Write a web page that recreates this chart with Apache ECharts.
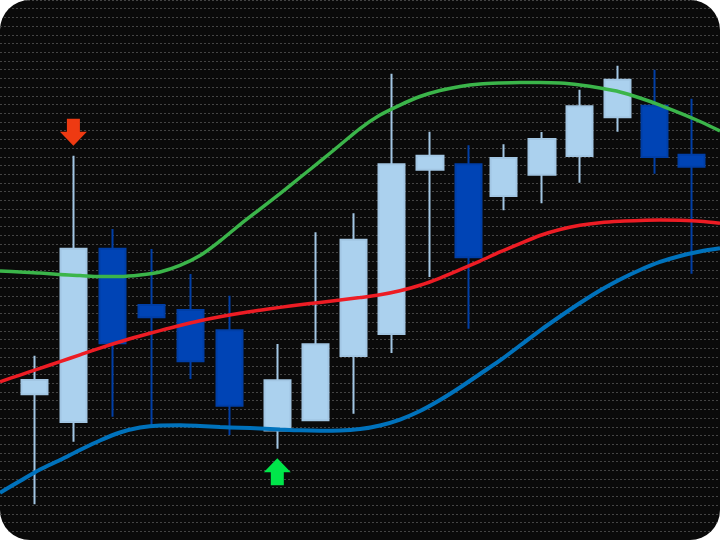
<!DOCTYPE html>
<html><head><meta charset="utf-8">
<script src="https://cdn.jsdelivr.net/npm/echarts@6/dist/echarts.min.js"></script>
<style>
html,body{margin:0;padding:0;background:#ffffff;}
#c{width:720px;height:540px;border-radius:30px;overflow:hidden;background:#0a0a0a;}
</style></head><body><div id="c"></div>
<script>
// bar times (time units on a linear axis)
const times = [34.7, 73.4, 112.7, 151.7, 190.7, 229.7, 277.3, 315.3, 353.7, 391.3, 430, 468.3, 503.7, 542, 579.7, 617.3, 654.7, 691.3];
const opens  = [16.73, 13.55, 33.44, 26.98, 26.41, 24.08, 12.57, 13.74, 21.13, 23.65, 42.51, 43.13, 39.49, 41.94, 44.09, 48.53, 49.86, 44.24];
const closes = [18.37, 33.44, 22.58, 25.57, 20.52, 15.42, 18.34, 22.47, 34.48, 43.13, 44.12, 32.46, 43.86, 46.04, 49.79, 52.85, 43.97, 42.86];
const lows   = [4.10, 11.29, 14.16, 13.20, 18.48, 12.06, 10.48, 13.74, 14.50, 21.47, 30.20, 24.26, 37.85, 38.66, 41.02, 46.88, 42.06, 30.57];
const highs  = [21.16, 44.12, 35.71, 33.41, 30.54, 28.05, 22.50, 35.33, 37.51, 53.54, 46.88, 45.32, 45.43, 46.84, 51.70, 54.46, 54.00, 50.67];

// band curves sampled over time
const bandTimes = [0, 20, 40, 60, 80, 100, 120, 140, 160, 180, 200, 220, 240, 260, 280, 300, 320, 340, 360,
                   380, 400, 420, 440, 460, 480, 500, 520, 540, 560, 580, 600, 620, 640, 660, 680, 700, 720];
const upperBand  = [30.88, 30.77, 30.65, 30.48, 30.37, 30.25, 30.25, 30.42, 30.77, 31.52, 32.66, 34.33, 36.22, 38.00, 39.78, 41.62, 43.46, 45.35, 47.24,
                    48.79, 49.94, 50.92, 51.61, 52.07, 52.35, 52.47, 52.53, 52.53, 52.47, 52.24, 51.89, 51.44, 50.75, 49.94, 49.02, 48.05, 46.96];
const middleBand = [18.17, 18.94, 19.71, 20.48, 21.26, 22.04, 22.76, 23.42, 24.04, 24.63, 25.17, 25.63, 26.03, 26.38, 26.71, 27.00, 27.28, 27.55, 27.83,
                    28.15, 28.61, 29.25, 30.08, 31.04, 32.03, 33.07, 34.04, 34.96, 35.65, 36.13, 36.43, 36.60, 36.69, 36.73, 36.70, 36.60, 36.36];
const lowerBand  = [5.43, 6.77, 8.09, 9.18, 10.33, 11.42, 12.34, 12.92, 13.15, 13.17, 13.09, 12.97, 12.89, 12.80, 12.69, 12.59, 12.55, 12.57, 12.74,
                    13.15, 13.83, 14.81, 16.07, 17.51, 19.06, 20.61, 22.33, 24.05, 25.66, 27.21, 28.65, 29.91, 31.00, 31.92, 32.61, 33.12, 33.49];

// signal bar indexes
const sellSignals = [1];
const buySignals = [6];

const chart = echarts.init(document.getElementById('c'), null, {renderer: 'canvas'});
const candleData = times.map((t, i) => [t, opens[i], closes[i], lows[i], highs[i]]);
const pair = (xs, ys) => xs.map((x, i) => [x, ys[i]]);

const downArrow = 'path://M7,0 L20,0 L20,13 L27,13 L13.5,27 L0,13 L7,13 Z';
const upArrow = 'path://M13.5,0 L27,14 L20,14 L20,27 L7,27 L7,14 L0,14 Z';

const bandLine = (data, color, width) => ({
  type: 'line', data: data, smooth: 0.3, symbol: 'none',
  lineStyle: {color: color, width: width}, z: 3
});

chart.setOption({
  animation: false,
  backgroundColor: 'transparent',
  grid: {left: 0, right: 0, top: 0, bottom: 0, containLabel: false},
  xAxis: {type: 'value', min: 0, max: 720, show: false},
  yAxis: {
    type: 'value', min: 0, max: 62, interval: 1,
    axisLine: {show: false}, axisTick: {show: false}, axisLabel: {show: false},
    splitLine: {show: true, lineStyle: {color: '#444444', width: 1, type: [2, 2]}}
  },
  series: [
    {
      type: 'candlestick',
      data: candleData,
      encode: {x: 0, y: [1, 2, 3, 4]},
      barWidth: 27,
      itemStyle: {
        color: '#abd1ee', color0: '#0044b5',
        borderColor: '#a2c6e3', borderColor0: '#003ea6',
        borderWidth: 2
      },
      z: 2
    },
    bandLine(pair(bandTimes, upperBand), '#3bb54a', 3.5),
    bandLine(pair(bandTimes, middleBand), '#ed1c24', 3.5),
    bandLine(pair(bandTimes, lowerBand), '#0072bc', 4),
    {
      type: 'scatter',
      data: sellSignals.map(i => [times[i], highs[i]]),
      symbol: downArrow, symbolSize: [27, 27], symbolOffset: [0, -23.5],
      itemStyle: {color: '#ee3a12', opacity: 1}, z: 4
    },
    {
      type: 'scatter',
      data: buySignals.map(i => [times[i], lows[i]]),
      symbol: upArrow, symbolSize: [27, 27], symbolOffset: [0, 23],
      itemStyle: {color: '#00e64a', opacity: 1}, z: 4
    }
  ]
});
</script>
</body></html>
